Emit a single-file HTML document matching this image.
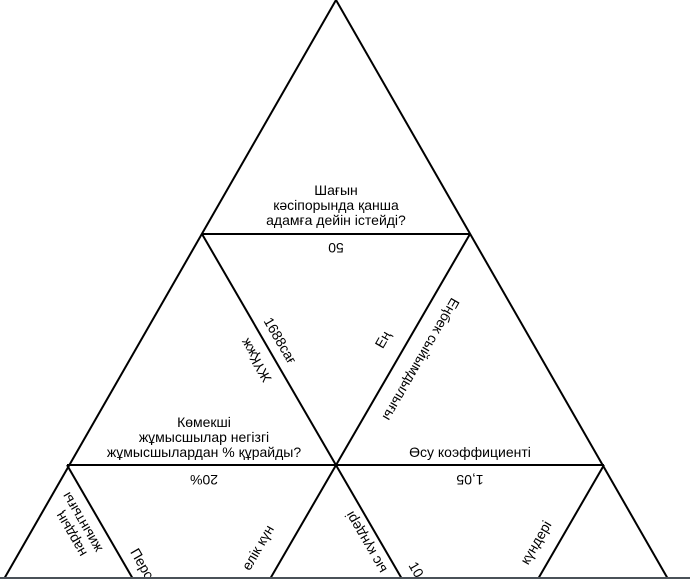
<!DOCTYPE html>
<html><head><meta charset="utf-8"><style>
html,body{margin:0;padding:0;background:#fff;}
svg{display:block;font-family:"Liberation Sans",sans-serif;font-size:14px;}
</style></head><body>
<svg width="690" height="579" viewBox="0 0 690 579" xmlns="http://www.w3.org/2000/svg">
<g stroke="#000" stroke-width="2" fill="none">
<line x1="336" y1="0" x2="4" y2="579"/>
<line x1="336" y1="0" x2="668" y2="579"/>
<line x1="202" y1="234" x2="470" y2="234"/>
<line x1="67" y1="465" x2="604" y2="465"/>
<line x1="202" y1="234" x2="402" y2="579"/>
<line x1="470" y1="234" x2="270" y2="579"/>
<line x1="67" y1="465" x2="133" y2="579"/>
<line x1="604" y1="465" x2="538" y2="579"/>
</g>
<g fill="#000" text-anchor="middle">
<text x="336" y="195">Шағын</text>
<text x="336" y="210">кәсіпорында қанша</text>
<text x="336" y="225">адамға дейін істейді?</text>
<text transform="translate(336,243) rotate(180)">50</text>
<text x="204" y="427">Көмекші</text>
<text x="204" y="442">жұмысшылар негізгі</text>
<text x="204" y="457">жұмысшылардан % құрайды?</text>
<text transform="translate(204,475) rotate(180)">20%</text>
<text x="470" y="457">Өсу коэффициенті</text>
<text transform="translate(470,475) rotate(180)">1,05</text>
<text transform="translate(276,343) rotate(60)">1688сағ</text>
<text transform="translate(260,358) rotate(240)">ЖҮҚжж</text>
<text transform="translate(417,357) rotate(120)">Еңбек сыйымдылығы</text>
<text transform="translate(387,342) rotate(-60)">Ең</text>
<text transform="translate(86,520) rotate(240)">жиынтығы</text>
<text transform="translate(75,532) rotate(240)">нардың</text>
<text transform="translate(138,566) rotate(60)">Перс</text>
<text transform="translate(262,550) rotate(-60)">елік күн</text>
<text transform="translate(370,540) rotate(240)">ыс күндері</text>
<text transform="translate(412,572) rotate(60)">10</text>
<text transform="translate(540,545) rotate(-60)">күндері</text>
</g>
<rect x="0" y="577" width="690" height="2" fill="#4a5158"/>
</svg>
</body></html>
